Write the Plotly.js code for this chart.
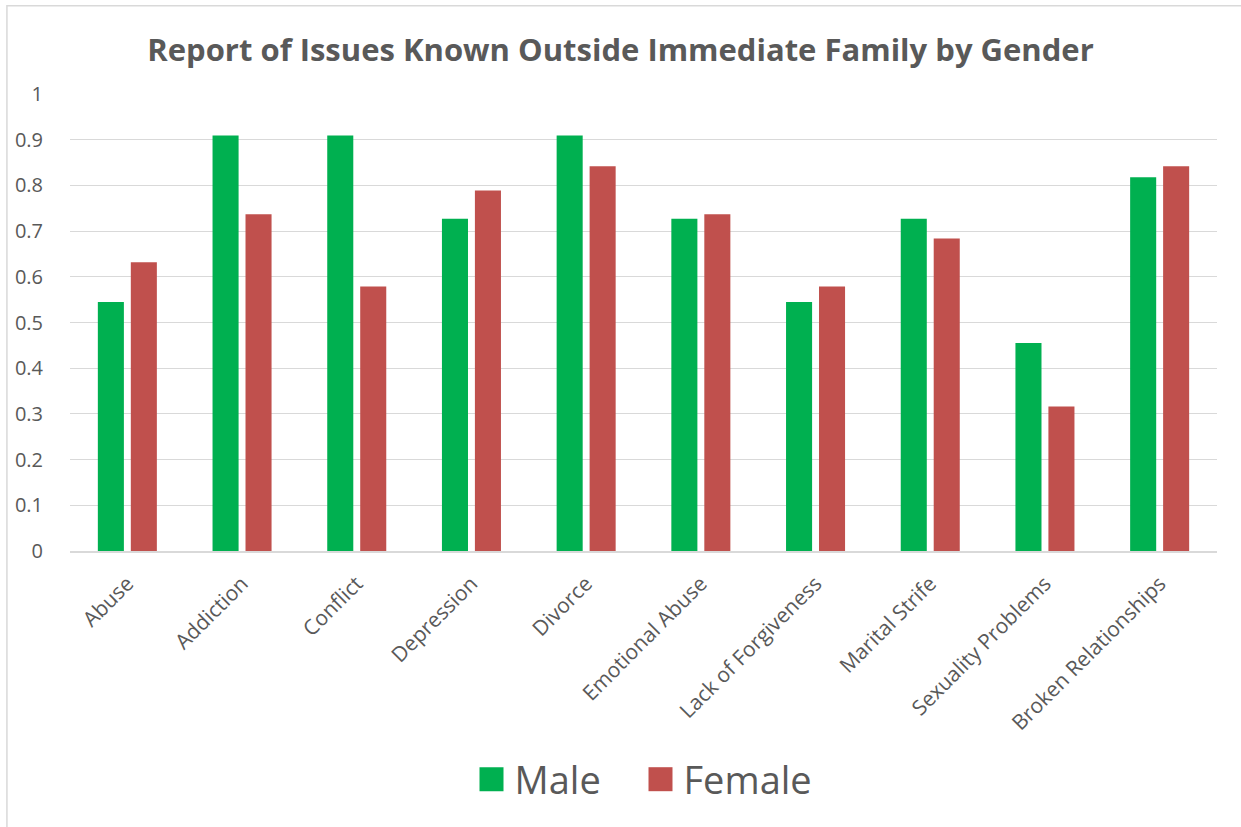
<!DOCTYPE html>
<html><head><meta charset="utf-8">
<script src="https://cdn.plot.ly/plotly-3.0.1.min.js"></script>
<style>
body{margin:0;padding:0;background:#fff;}
#chart{width:1241px;height:827px;}
</style>
</head><body>
<div id="chart"></div>
<script>
const categories = ["Abuse","Addiction","Conflict","Depression","Divorce","Emotional Abuse","Lack of Forgiveness","Marital Strife","Sexuality Problems","Broken Relationships"];
const maleValues = [0.545,0.909,0.909,0.727,0.909,0.727,0.545,0.727,0.455,0.818];
const femaleValues = [0.632,0.737,0.579,0.789,0.842,0.737,0.579,0.684,0.316,0.842];
const yTicks = [0,0.1,0.2,0.3,0.4,0.5,0.6,0.7,0.8,0.9,1];
const yTickText = ["0","0.1","0.2","0.3","0.4","0.5","0.6","0.7","0.8","0.9","1"];

const FONT = "Open Sans, Lato, sans-serif";
const traces = [
  {type:'bar', name:'Male', x:categories, y:maleValues, marker:{color:'#00B050'}},
  {type:'bar', name:'Female', x:categories, y:femaleValues, marker:{color:'#C0504D'}}
];
const layout = {
  width:1241, height:827,
  paper_bgcolor:'#fff', plot_bgcolor:'#fff',
  margin:{l:70, r:24, t:94, b:276},
  title:{text:'<b>Report of Issues Known Outside Immediate Family by Gender</b>', x:0.5, xanchor:'center', y:0.939, yanchor:'middle', font:{family:FONT, size:31, color:'#595959'}},
  barmode:'group', bargap:0.425, bargroupgap:0.21,
  xaxis:{tickangle:-45, tickfont:{family:FONT, size:21, color:'#595959'}, showline:true, linecolor:'#d9d9d9', linewidth:2, ticks:'outside', ticklen:10, tickcolor:'rgba(0,0,0,0)', showgrid:false},
  yaxis:{range:[0,1], tickvals:yTicks, ticktext:yTickText, tickfont:{family:FONT, size:20, color:'#595959'}, gridcolor:'#d9d9d9', gridwidth:1, zeroline:false, ticks:'outside', ticklen:22, tickcolor:'rgba(0,0,0,0)', showline:false},
  legend:{orientation:'h', x:0.5, xanchor:'center', y:-0.5, yanchor:'middle', font:{family:FONT, size:38, color:'#595959'}, itemwidth:30, entrywidth:124},
  shapes:[{type:'rect', xref:'paper', yref:'paper', x0:-0.055, x1:1.05, y0:-0.7, y1:1.193, line:{color:'#d9d9d9', width:1.5}, fillcolor:'rgba(0,0,0,0)', layer:'below'}],
  showlegend:true
};
Plotly.newPlot('chart', traces, layout, {displayModeBar:false, staticPlot:true}).then(function(gd){
  gd.querySelectorAll('.legendpoints path').forEach(function(p){
    p.setAttribute('d','M9,12H-15V-12H9Z');
    p.style.strokeWidth = '0px';
  });
});
</script>
</body></html>
